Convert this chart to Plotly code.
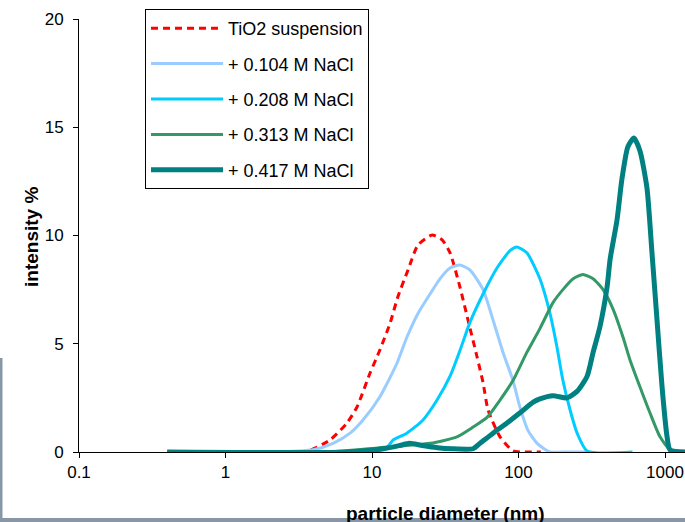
import plotly.graph_objects as go

# ---------------- data ----------------
tio2_x = [0.4, 1, 2, 3, 3.66, 5.16, 6.75, 7.9, 9.7, 11.3, 13.3, 15.0, 17.6, 20.6,
          25.7, 30.1, 34.1, 39.9, 45.2, 52.1, 57.3, 62, 74.8, 91.7, 110, 142]
tio2_y = [0, 0, 0, 0, 0.05, 0.55, 1.34, 2.08, 3.65, 4.7, 5.96, 7.16, 8.4, 9.56,
          10.02, 9.8, 9.2, 7.6, 6.1, 4.4, 3.2, 1.94, 0.7, 0.05, 0, 0]

n104_x = [0.4, 2, 3.96, 5.42, 7.08, 8.68, 11.3, 14.8, 17.3, 20.6, 24.9, 29.1,
          34.1, 39.9, 46.7, 57.3, 67, 78.4, 91.7, 102, 116, 134, 164, 200, 290]
n104_y = [0, 0, 0.1, 0.4, 0.87, 1.48, 2.54, 4.1, 5.3, 6.4, 7.3, 8.0,
          8.5, 8.64, 8.4, 7.5, 6.1, 4.6, 3.3, 2.1, 1.0, 0.4, 0, 0, 0]

n208_x = [0.4, 8, 12.6, 13.9, 17.3, 22.3, 27.8, 34.1, 39.9, 46.7, 57.3, 71.3,
          87.5, 97.7, 114, 140, 164, 183, 201, 225, 251, 294, 600]
n208_y = [0, 0, 0.2, 0.55, 0.87, 1.48, 2.4, 3.5, 4.7, 6.0, 7.3, 8.5,
          9.3, 9.47, 9.2, 8.0, 6.4, 4.85, 3.3, 1.94, 0.88, 0.05, 0]

n313_x = [0.4, 5, 11.3, 24.9, 38, 48.9, 61, 74.8, 91.7, 114, 140, 172, 201, 236,
          275, 323, 378, 442, 517, 577, 675, 790, 925, 1082, 1300]
n313_y = [0, 0, 0.2, 0.4, 0.7, 1.15, 1.6, 2.4, 3.3, 4.6, 5.7, 6.9, 7.5, 8.0,
          8.2, 8.0, 7.5, 6.6, 5.3, 4.25, 3.0, 1.8, 0.7, 0.1, 0]

n417_x = [0.4, 7, 12, 15.5, 18, 22, 28, 35, 48.9, 54.6, 67, 83.5, 102, 126, 140,
          172, 214, 251, 294, 323, 360, 402, 422, 470, 508, 558, 614, 675, 753,
          815, 882, 955, 1033, 1082, 1400]
n417_y = [0, 0, 0.15, 0.3, 0.4, 0.3, 0.2, 0.15, 0.15, 0.4, 0.87, 1.34, 1.8, 2.3, 2.45,
          2.6, 2.5, 2.8, 3.5, 4.6, 5.8, 7.6, 8.9, 10.7, 12.6, 14.1, 14.5, 13.9, 12.2,
          9.2, 6.1, 3.0, 0.7, 0.1, 0]

names = ["TiO2 suspension", "+ 0.104 M NaCl", "+ 0.208 M NaCl",
         "+ 0.313 M NaCl", "+ 0.417 M NaCl"]
x_ticks = [0.1, 1, 10, 100, 1000]
x_ticktext = ["0.1", "1", "10", "100", "1000"]
y_ticks = [0, 5, 10, 15, 20]

FONT = "Liberation Sans, Arial, sans-serif"

series = [
    (tio2_x, tio2_y, dict(color="#FF0000", width=3, dash="7px,5px")),
    (n104_x, n104_y, dict(color="#99CCFF", width=3)),
    (n208_x, n208_y, dict(color="#00CCFF", width=3)),
    (n313_x, n313_y, dict(color="#339966", width=3)),
    (n417_x, n417_y, dict(color="#008080", width=5)),
]

fig = go.Figure()
for i, (xs, ys, ln) in enumerate(series):
    fig.add_trace(go.Scatter(x=xs, y=ys, mode="lines", name=names[i],
                             line=dict(shape="spline", smoothing=0.6, **ln),
                             legendgroup=f"g{i}"))

W, H = 685, 522
L, R, T, B = 79, 0, 19, 70
pw, ph = W - L - R, H - T - B

def px2paper_x(px):
    return (px - L) / pw

def px2paper_y(py):
    return (H - B - py) / ph

fig.update_layout(
    width=W, height=H,
    margin=dict(l=L, r=R, t=T, b=B),
    paper_bgcolor="white", plot_bgcolor="white",
    font=dict(family=FONT, size=17, color="black"),
    showlegend=True,
    legend=dict(
        x=px2paper_x(145), y=px2paper_y(9), xanchor="left", yanchor="top",
        bordercolor="black", borderwidth=1, bgcolor="white",
        font=dict(family=FONT, size=18, color="black"),
        tracegroupgap=9, traceorder="grouped",
        itemwidth=72,
    ),
    xaxis=dict(
        type="log", range=[-1, 3.1365],
        tickvals=x_ticks, ticktext=x_ticktext,
        ticks="outside", ticklen=5, tickcolor="black",
        showline=True, linecolor="black", linewidth=1,
        showgrid=False, zeroline=False,
        tickfont=dict(family=FONT, size=17),
    ),
    yaxis=dict(
        range=[0, 20], tickvals=y_ticks,
        ticks="outside", ticklen=5, tickcolor="black",
        showline=True, linecolor="black", linewidth=1,
        showgrid=False, zeroline=False,
        tickfont=dict(family=FONT, size=17),
        ticklabelstandoff=6,
    ),
    annotations=[
        dict(text="<b>intensity %</b>", textangle=-90,
             xref="paper", yref="paper",
             x=px2paper_x(31), y=px2paper_y(237),
             xanchor="center", yanchor="middle", showarrow=False,
             font=dict(family=FONT, size=19)),
        dict(text="<b>particle diameter (nm)</b>",
             xref="paper", yref="paper",
             x=px2paper_x(445), y=px2paper_y(501),
             xanchor="center", yanchor="top", showarrow=False,
             font=dict(family=FONT, size=19)),
    ],
    shapes=[
        dict(type="rect", xref="paper", yref="paper",
             x0=px2paper_x(0), x1=px2paper_x(W),
             y0=px2paper_y(518), y1=px2paper_y(H),
             fillcolor="#8797A8", line=dict(width=0), layer="above"),
        dict(type="rect", xref="paper", yref="paper",
             x0=px2paper_x(0), x1=px2paper_x(2.5),
             y0=px2paper_y(358), y1=px2paper_y(H),
             fillcolor="#8797A8", line=dict(width=0), layer="above"),
    ],
)

fig.write_html("out.html")
